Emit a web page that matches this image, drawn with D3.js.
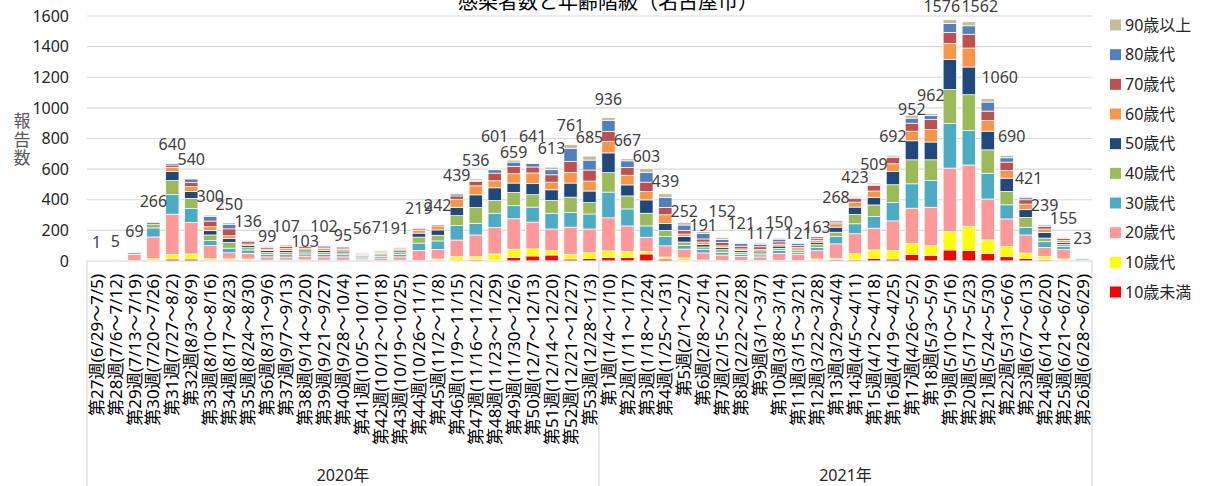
<!DOCTYPE html>
<html>
<head>
<meta charset="utf-8">
<script src="https://cdnjs.cloudflare.com/ajax/libs/d3/7.8.5/d3.min.js"></script>
<style>
  body { margin: 0; background: #fff; }
  svg { font-family: "Noto Sans", "Noto Sans CJK JP", sans-serif; }
</style>
</head>
<body>
<div id="chart"></div>
<script>
// Week labels
var weeks2020 = ["第27週(6/29～7/5)","第28週(7/6～7/12)","第29週(7/13～7/19)","第30週(7/20～7/26)",
  "第31週(7/27～8/2)","第32週(8/3～8/9)","第33週(8/10～8/16)","第34週(8/17～8/23)",
  "第35週(8/24～8/30)","第36週(8/31～9/6)","第37週(9/7～9/13)","第38週(9/14～9/20)",
  "第39週(9/21～9/27)","第40週(9/28～10/4)","第41週(10/5～10/11)","第42週(10/12～10/18)",
  "第43週(10/19～10/25)","第44週(10/26～11/1)","第45週(11/2～11/8)","第46週(11/9～11/15)",
  "第47週(11/16～11/22)","第48週(11/23～11/29)","第49週(11/30～12/6)","第50週(12/7～12/13)",
  "第51週(12/14～12/20)","第52週(12/21～12/27)","第53週(12/28～1/3)"];
var weeks2021 = ["第1週(1/4～1/10)","第2週(1/11～1/17)","第3週(1/18～1/24)","第4週(1/25～1/31)",
  "第5週(2/1～2/7)","第6週(2/8～2/14)","第7週(2/15～2/21)","第8週(2/22～2/28)",
  "第9週(3/1～3/7)","第10週(3/8～3/14)","第11週(3/15～3/21)","第12週(3/22～3/28)",
  "第13週(3/29～4/4)","第14週(4/5～4/11)","第15週(4/12～4/18)","第16週(4/19～4/25)",
  "第17週(4/26～5/2)","第18週(5/3～5/9)","第19週(5/10～5/16)","第20週(5/17～5/23)",
  "第21週(5/24～5/30)","第22週(5/31～6/6)","第23週(6/7～6/13)","第24週(6/14～6/20)",
  "第25週(6/21～6/27)","第26週(6/28～6/29)"];
var years = ["2020年", "2021年"];

// Age groups, bottom to top
var ageGroups = ["10歳未満","10歳代","20歳代","30歳代","40歳代","50歳代","60歳代","70歳代","80歳代","90歳以上"];
var ageColors = ["#FF0000","#FFFF00","#FF9999","#4BACC6","#9BBB59","#1F497D","#F79646","#C0504D","#4F81BD","#C4BD97"];

// Cases per week for each age group (2020 w27..w53, then 2021 w1..w26)
var under10 = [0,0,0,1,13,13,2,2,5,2,1,1,1,1,0,0,1,2,1,2,8,5,22,33,39,13,17,
  22,22,46,13,3,1,1,1,1,1,1,1,8,8,17,13,44,35,72,68,48,28,17,8,4,0];
var age10s = [0,0,2,14,30,33,13,12,8,3,5,6,4,4,2,3,4,2,12,28,20,41,55,46,28,31,37,
  44,39,17,13,17,5,3,3,3,4,3,12,10,39,55,55,72,65,120,159,90,68,35,22,10,1];
var age20s = [1,3,42,142,263,206,85,40,37,22,20,25,22,22,10,16,22,65,63,107,142,172,199,175,142,177,155,
  216,168,92,73,58,47,35,25,23,45,40,55,94,131,142,194,229,251,415,400,267,179,118,59,60,5];
var age30s = [0,1,10,59,127,92,33,30,22,15,15,14,15,14,8,12,16,48,55,94,76,94,85,98,103,96,98,
  168,111,74,61,24,22,18,15,13,18,12,20,48,65,76,120,159,175,290,225,168,92,50,37,20,8];
var age40s = [0,1,5,22,92,65,37,38,15,14,14,14,14,12,8,10,12,39,37,65,103,83,87,81,83,100,74,
  127,85,83,39,22,17,17,13,13,15,12,20,28,61,76,116,157,135,223,234,153,87,65,24,15,3];
var age50s = [0,0,4,11,59,44,28,25,13,12,14,12,14,12,8,9,11,26,35,55,83,83,61,72,70,92,76,
  129,72,87,46,37,15,13,12,12,15,10,15,33,48,50,87,124,116,196,181,122,87,50,37,12,2];
var age60s = [0,0,2,7,28,33,26,18,11,10,12,12,12,10,7,8,9,17,26,52,59,46,61,70,50,70,65,
  76,63,55,57,15,17,12,10,10,12,10,13,22,33,41,50,63,81,105,124,70,50,37,22,14,1];
var age70s = [0,0,2,5,15,26,37,45,15,10,14,10,10,10,7,7,9,11,8,22,28,50,48,39,48,72,72,
  65,50,61,48,24,20,22,18,18,15,14,13,11,22,35,41,52,65,72,90,61,55,28,17,12,1];
var age80s = [0,0,1,3,9,24,31,30,9,8,9,7,8,8,5,5,6,6,4,13,7,22,28,22,33,83,65,
  72,44,63,65,35,35,20,17,17,18,13,10,9,9,9,9,33,26,59,55,59,28,13,9,6,1];
var age90s = [0,0,1,2,4,4,8,10,1,3,3,2,2,2,1,1,1,3,1,1,10,5,13,5,17,27,26,
  17,13,25,24,17,12,11,7,7,7,6,4,5,7,8,7,19,13,24,26,22,16,8,4,2,1];

// Weekly totals shown above the bars
var totals = [1,5,69,266,640,540,300,250,136,99,107,103,102,95,56,71,91,219,242,439,536,601,659,641,613,761,685,
  936,667,603,439,252,191,152,121,117,150,121,163,268,423,509,692,952,962,1576,1562,1060,690,421,239,155,23];

var yTicks = [0,200,400,600,800,1000,1200,1400,1600];

var series = [under10, age10s, age20s, age30s, age40s, age50s, age60s, age70s, age80s, age90s];
var weeks = weeks2020.concat(weeks2021);
var rows = weeks.map(function (w, i) {
  var row = { week: w, index: i };
  ageGroups.forEach(function (g, k) { row[g] = series[k][i]; });
  return row;
});

// Label nudges where the original labels were moved to avoid overlap
var labelNudge = { 9: [0, 9], 11: [0, 15], 13: [0, 8], 14: [0, -5], 15: [0, -4],
  21: [0, -14], 22: [0, 11], 23: [0, -8],
  29: [0, 6], 30: [0, 6], 31: [0, 8], 32: [0, 12], 33: [0, -8], 35: [0, 9], 36: [0, 3],
  37: [0, 10], 38: [0, 10], 39: [0, -4], 43: [0, 13], 45: [-8, 0], 46: [11, 0],
  47: [12, -3], 48: [5, 0], 49: [3, 0] };

var W = 1209, H = 486;
var plot = { left: 87, right: 1092, top: 16, bottom: 261 };

var svg = d3.select("#chart").append("svg")
  .attr("width", W).attr("height", H);

var x = d3.scaleBand()
  .domain(d3.range(weeks.length))
  .range([plot.left, plot.right])
  .paddingInner(0.3)
  .paddingOuter(0.15);

var y = d3.scaleLinear()
  .domain([0, 1600])
  .range([plot.bottom, plot.top]);

// Gridlines
svg.append("g")
  .selectAll("line")
  .data(yTicks.slice(1))
  .enter().append("line")
  .attr("x1", plot.left).attr("x2", plot.right)
  .attr("y1", function (d) { return y(d); })
  .attr("y2", function (d) { return y(d); })
  .attr("stroke", "#D9D9D9")
  .attr("stroke-width", 1.2);

// Y axis labels
var yAxis = svg.append("g")
  .attr("transform", "translate(" + (plot.left - 18) + ",0)")
  .call(d3.axisLeft(y).tickValues(yTicks).tickFormat(d3.format("d")).tickSize(0).tickPadding(0));
yAxis.select(".domain").remove();
yAxis.selectAll("text")
  .attr("font-size", 16)
  .attr("fill", "#262626")
  .attr("font-family", "Noto Sans, Noto Sans CJK JP, sans-serif");

// Y axis title (vertical)
var yTitle = svg.append("text")
  .attr("font-size", 17)
  .attr("fill", "#595959")
  .attr("text-anchor", "middle")
  .attr("font-family", "Noto Sans CJK JP, sans-serif");
["報", "告", "数"].forEach(function (c, i) {
  yTitle.append("tspan").attr("x", 22).attr("y", 127 + i * 18.5).text(c);
});

// Title (partly cut off at the top)
svg.append("text")
  .attr("x", 608).attr("y", 9)
  .attr("text-anchor", "middle")
  .attr("font-size", 20)
  .attr("fill", "#000")
  .attr("font-family", "Noto Sans CJK JP, sans-serif")
  .text("感染者数と年齢階級（名古屋市）");

// Stacked bars
var stacked = d3.stack().keys(ageGroups)(rows);

svg.append("g")
  .selectAll("g")
  .data(stacked)
  .enter().append("g")
  .attr("fill", function (d, i) { return ageColors[i]; })
  .selectAll("rect")
  .data(function (d) { return d; })
  .enter().append("rect")
  .attr("x", function (d) { return x(d.data.index); })
  .attr("width", x.bandwidth())
  .attr("y", function (d) { return y(d[1]); })
  .attr("height", function (d) { return y(d[0]) - y(d[1]); })
  .attr("stroke", "#fff")
  .attr("stroke-width", 0.7);

// Totals above bars
svg.append("g")
  .selectAll("text")
  .data(totals)
  .enter().append("text")
  .attr("x", function (d, i) {
    var n = labelNudge[i] ? labelNudge[i][0] : 0;
    return x(i) + x.bandwidth() / 2 + n;
  })
  .attr("y", function (d, i) {
    var n = labelNudge[i] ? labelNudge[i][1] : 0;
    return Math.max(y(d) - 13 + n, 12);
  })
  .attr("text-anchor", "middle")
  .attr("font-size", 16)
  .attr("fill", "#404040")
  .text(function (d) { return d; });

// Category axis lines
var axisG = svg.append("g").attr("stroke", "#D9D9D9").attr("stroke-width", 1.2);
axisG.append("line")
  .attr("x1", plot.left).attr("x2", plot.right)
  .attr("y1", plot.bottom).attr("y2", plot.bottom);
[0, weeks2020.length, weeks.length].forEach(function (k) {
  var xx = plot.left + k * x.step();
  axisG.append("line")
    .attr("x1", xx).attr("x2", xx)
    .attr("y1", plot.bottom).attr("y2", H);
});

// Week labels, rotated
svg.append("g")
  .selectAll("text")
  .data(weeks)
  .enter().append("text")
  .attr("transform", function (d, i) {
    return "translate(" + (x(i) + x.bandwidth() / 2) + "," + 274 + ") rotate(-90)";
  })
  .attr("text-anchor", "end")
  .attr("dy", "0.36em")
  .attr("font-size", 17)
  .attr("fill", "#000")
  .text(function (d) { return d; });

// Year labels
svg.append("g")
  .selectAll("text")
  .data(years)
  .enter().append("text")
  .attr("x", function (d, i) {
    var a = i === 0 ? 0 : weeks2020.length;
    var b = i === 0 ? weeks2020.length : weeks.length;
    return plot.left + (a + b) / 2 * x.step();
  })
  .attr("y", 481)
  .attr("text-anchor", "middle")
  .attr("font-size", 16)
  .attr("fill", "#262626")
  .text(function (d) { return d; });

// Legend, top to bottom: 90歳以上 first
var legend = svg.append("g")
  .selectAll("g")
  .data(ageGroups.slice().reverse())
  .enter().append("g")
  .attr("transform", function (d, i) { return "translate(1110," + (25 + i * 29.67) + ")"; });
legend.append("rect")
  .attr("x", 0).attr("y", -5.5)
  .attr("width", 11).attr("height", 11)
  .attr("fill", function (d) { return ageColors[ageGroups.indexOf(d)]; });
legend.append("text")
  .attr("x", 15).attr("dy", "0.36em")
  .attr("font-size", 16)
  .attr("fill", "#262626")
  .text(function (d) { return d; });
</script>
</body>
</html>
